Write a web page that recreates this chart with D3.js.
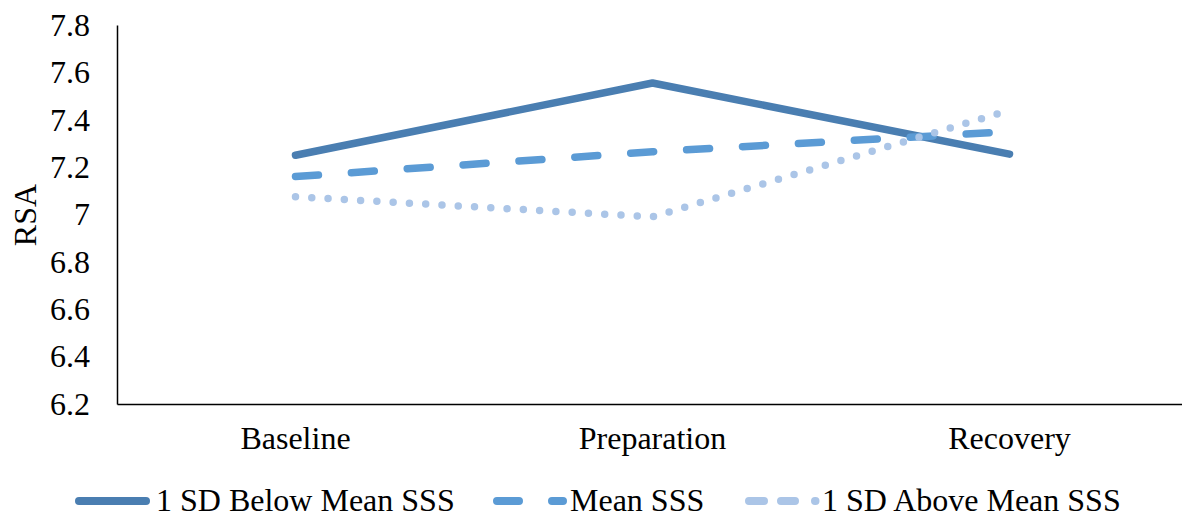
<!DOCTYPE html>
<html>
<head>
<meta charset="utf-8">
<script src="https://cdn.jsdelivr.net/npm/d3@7"></script>
<style>
  body { margin: 0; background: #fff; }
  svg text { font-family: "Liberation Serif", "Times New Roman", Times, "DejaVu Serif", serif; fill: #000; }
</style>
</head>
<body>
<svg width="1182" height="521"></svg>
<script>
const categories = ['Baseline', 'Preparation', 'Recovery'];
const seriesNames = ['1 SD Below Mean SSS', 'Mean SSS', '1 SD Above Mean SSS'];
const belowMean = [7.25, 7.555, 7.255];
const meanSSS = [7.16, 7.265, 7.35];
const aboveMean = [7.075, 6.99, 7.44];
const yTicks = [6.2, 6.4, 6.6, 6.8, 7, 7.2, 7.4, 7.6, 7.8];

const svg = d3.select('svg');
const serif = '"Liberation Serif", "Times New Roman", Times, "DejaVu Serif", serif';

const x = d3.scaleBand().domain(categories).range([117, 1188]);
const y = d3.scaleLinear().domain([6.2, 7.8]).range([404, 25]);

// y axis
const yAxis = svg.append('g').attr('transform', 'translate(117,0)')
  .call(d3.axisLeft(y).tickValues(yTicks).tickSize(0).tickPadding(27)
    .tickFormat(d => String(+d.toFixed(1))));
yAxis.attr('font-family', serif);
yAxis.select('.domain').attr('stroke', '#000').attr('stroke-width', 1.5);
yAxis.selectAll('text').attr('font-size', 32).style('font-family', serif);

// x axis
const xAxis = svg.append('g').attr('transform', 'translate(0,404)')
  .call(d3.axisBottom(x).tickSize(0).tickPadding(22));
xAxis.attr('font-family', serif);
xAxis.select('.domain').attr('stroke', '#000').attr('stroke-width', 1.5);
xAxis.selectAll('text').attr('font-size', 32).style('font-family', serif);

svg.append('text')
  .attr('transform', 'translate(36,215) rotate(-90)')
  .attr('text-anchor', 'middle')
  .attr('font-size', 32)
  .style('font-family', serif)
  .text('RSA');

const line = d3.line()
  .x((d, i) => x(categories[i]) + x.bandwidth() / 2)
  .y(d => y(d));

const styles = [
  { data: belowMean, color: '#4a7eb1', width: 7.5, dash: null },
  { data: meanSSS, color: '#5b9bd5', width: 7.5, dash: '23,33' },
  { data: aboveMean, color: '#abc5e7', width: 7.5, dash: '0,16.3' }
];

styles.forEach(s => {
  svg.append('path')
    .attr('d', line(s.data))
    .attr('fill', 'none')
    .attr('stroke', s.color)
    .attr('stroke-width', s.width)
    .attr('stroke-linecap', 'round')
    .attr('stroke-linejoin', 'round')
    .attr('stroke-dasharray', s.dash);
});

// legend
const legend = [
  { x0: 79, x1: 146, text: 156, dash: null },
  { x0: 497, x1: 563, text: 570, dash: '22,33' },
  { x0: 749, x1: 817, text: 822, dash: '15,17,14,20,0.5,100' }
];
legend.forEach((l, i) => {
  svg.append('line')
    .attr('x1', l.x0).attr('x2', l.x1)
    .attr('y1', 501).attr('y2', 501)
    .attr('stroke', styles[i].color)
    .attr('stroke-width', 8)
    .attr('stroke-linecap', 'round')
    .attr('stroke-dasharray', l.dash);
  svg.append('text')
    .attr('x', l.text).attr('y', 511)
    .attr('font-size', 32)
    .style('font-family', serif)
    .text(seriesNames[i]);
});
</script>
</body>
</html>
